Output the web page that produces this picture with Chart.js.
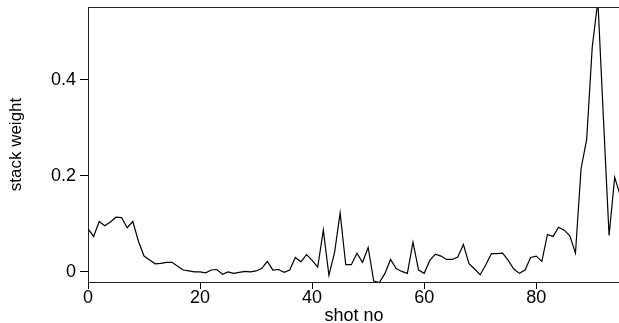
<!DOCTYPE html>
<html>
<head>
<meta charset="utf-8">
<script src="https://cdn.jsdelivr.net/npm/chart.js@4"></script>
<style>
  html, body { margin: 0; padding: 0; background: #fff; overflow: hidden; }
  #wrap { width: 625px; height: 323px; }
</style>
</head>
<body>
<div id="wrap"><canvas id="chart" width="625" height="323"></canvas></div>
<script>
// shot number / stack weight
const shotNo = [
  0, 1, 2, 3, 4, 5, 6, 7, 8, 9, 10, 11, 12, 13, 14, 15, 16, 17, 18, 19,
  20, 21, 22, 23, 24, 25, 26, 27, 28, 29, 30, 31, 32, 33, 34, 35, 36, 37, 38, 39,
  40, 41, 42, 43, 44, 45, 46, 47, 48, 49, 50, 51, 52, 53, 54, 55, 56, 57, 58, 59,
  60, 61, 62, 63, 64, 65, 66, 67, 68, 69, 70, 71, 72, 73, 74, 75, 76, 77, 78, 79,
  80, 81, 82, 83, 84, 85, 86, 87, 88, 89, 90, 91, 92, 93, 94, 95
];
const stackWeight = [
  0.090, 0.074, 0.105, 0.096, 0.104, 0.114, 0.113, 0.092, 0.105, 0.064,
  0.033, 0.025, 0.017, 0.018, 0.020, 0.020, 0.012, 0.004, 0.002, 0.000,
  0.000, -0.002, 0.004, 0.005, -0.005, 0.000, -0.003, -0.001, 0.001, 0.000,
  0.002, 0.007, 0.022, 0.004, 0.005, -0.001, 0.004, 0.030, 0.021, 0.036,
  0.024, 0.010, 0.087, -0.007, 0.040, 0.123, 0.015, 0.015, 0.039, 0.020,
  0.051, -0.019, -0.022, -0.003, 0.026, 0.007, 0.001, -0.003, 0.062, 0.004,
  -0.003, 0.024, 0.037, 0.033, 0.026, 0.026, 0.031, 0.057, 0.017, 0.006,
  -0.006, 0.015, 0.038, 0.038, 0.039, 0.024, 0.006, -0.003, 0.004, 0.030,
  0.033, 0.022, 0.078, 0.074, 0.093, 0.087, 0.075, 0.039, 0.215, 0.276,
  0.469, 0.565, 0.318, 0.076, 0.197, 0.159
];
const xTicks = [0, 20, 40, 60, 80];
const yTicks = [0, 0.2, 0.4];

const font = 'Liberation Sans, Arial, Helvetica, sans-serif';

// R-style box round the plot region
const boxPlugin = {
  id: 'box',
  afterDatasetsDraw(chart) {
    const a = chart.chartArea;
    const ctx = chart.ctx;
    ctx.save();
    ctx.strokeStyle = '#222';
    ctx.lineWidth = 1;
    ctx.strokeRect(Math.round(a.left) + 0.5, Math.round(a.top) + 0.5,
      Math.round(a.right - a.left), Math.round(a.bottom - a.top));
    ctx.restore();
  }
};

new Chart(document.getElementById('chart'), {
  type: 'line',
  data: {
    datasets: [{
      data: shotNo.map((x, i) => ({ x: x, y: stackWeight[i] })),
      borderColor: '#000',
      borderWidth: 1.2,
      pointRadius: 0,
      tension: 0,
      fill: false
    }]
  },
  options: {
    responsive: false,
    animation: false,
    layout: { padding: { top: 7, right: 5, left: 0, bottom: 0 } },
    plugins: { legend: { display: false }, tooltip: { enabled: false } },
    scales: {
      x: {
        type: 'linear',
        min: 0,
        max: 94.95,
        afterBuildTicks: (s) => { s.ticks = xTicks.map(v => ({ value: v })); },
        afterFit: (s) => { s.height = 41; s.paddingLeft = 0; s.paddingRight = 0; },
        border: { display: false },
        grid: { drawOnChartArea: false, drawTicks: true, tickLength: 7, color: '#000' },
        ticks: {
          color: '#000',
          padding: 0,
          maxRotation: 0,
          autoSkip: false,
          font: { family: font, size: 18, lineHeight: 1 }
        },
        title: {
          display: true,
          text: 'shot no',
          color: '#000',
          padding: { top: 0, bottom: -2 },
          font: { family: font, size: 18, lineHeight: 1 }
        }
      },
      y: {
        min: -0.021,
        max: 0.552,
        afterBuildTicks: (s) => { s.ticks = yTicks.map(v => ({ value: v })); },
        afterFit: (s) => { s.width = 88; s.paddingTop = 0; s.paddingBottom = 0; },
        border: { display: false },
        grid: { drawOnChartArea: false, drawTicks: true, tickLength: 8, color: '#000' },
        ticks: {
          color: '#000',
          padding: 4,
          autoSkip: false,
          callback: (v) => v === 0 ? '0' : v.toFixed(1),
          font: { family: font, size: 18 }
        },
        title: {
          display: true,
          text: 'stack weight',
          color: '#000',
          padding: { top: 6, bottom: 0 },
          font: { family: font, size: 17, lineHeight: 1.2 }
        }
      }
    }
  },
  plugins: [boxPlugin]
});
</script>
</body>
</html>
